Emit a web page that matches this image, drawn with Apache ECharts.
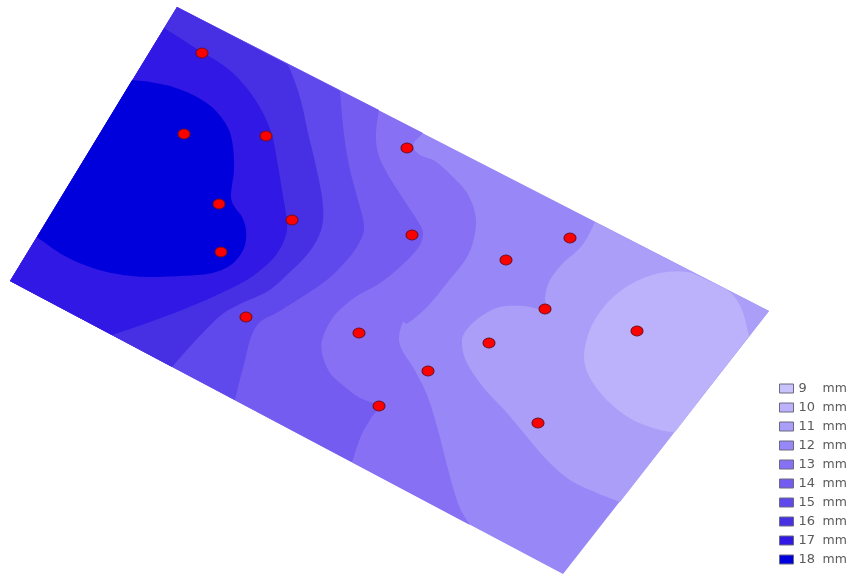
<!DOCTYPE html>
<html>
<head>
<meta charset="utf-8">
<style>
html,body{margin:0;padding:0;background:#fff;}
#chart{width:851px;height:576px;filter:blur(0.6px);}
</style>
<script src="https://cdn.jsdelivr.net/npm/echarts@6/dist/echarts.min.js"></script>
</head>
<body>
<div id="chart"></div>
<script>
// Field outline and contours, read in the chart's own (image-aligned) units
var fieldOutline = [[177,7],[769,311],[563,574],[10,281]];
var contour18 = [[132,80],[150,82],[173,87],[197,97],[215,110],[228,128],[233,147],[234,170],[232,185],[231,197],[234,206],[242,217],[246,230],[245,245],[238,258],[226,268],[207,274],[180,276],[147,277],[117,274],[90,267],[63,255],[37,237]];
var contour17 = [[164,28],[180,38],[200,51],[220,63],[236,76],[252,95],[264,115],[272,135],[277,160],[282,190],[287,222],[285,238],[276,255],[262,269],[245,281],[217,295],[187,308],[150,322],[112,335]];
var contour16 = [[288,65],[295,82],[302,105],[308,133],[315,162],[322,197],[323,220],[318,238],[306,256],[290,272],[268,291],[240,304],[220,316],[195,341],[172,367]];
var contour15 = [[340,91],[342,115],[345,142],[350,170],[358,200],[364,227],[358,245],[346,261],[328,279],[302,297],[278,312],[260,322],[251,337],[245,360],[239,383],[235,400]];
var contour14 = [[379,110],[376,133],[378,153],[387,173],[402,197],[417,220],[423,233],[418,248],[401,266],[380,283],[354,298],[334,316],[323,337],[322,353],[330,373],[345,387],[360,398],[378,406],[371,418],[361,436],[352,462]];
var contour13 = [[423,133],[413,145],[420,155],[435,161],[453,177],[467,193],[475,213],[475,233],[467,257],[447,283],[427,307],[408,323],[403,322],[399,337],[402,350],[414,369],[427,395],[438,430],[449,473],[459,506],[470,525]];
var contour11 = [[620,502],[597,493],[570,480],[547,460],[527,437],[507,413],[483,387],[467,363],[462,345],[465,332],[480,317],[500,307],[523,306],[545,309],[545,297],[550,280],[563,263],[578,250],[587,238],[595,222]];
var contour10 = [[749,336],[742,310],[730,292],[707,280],[687,272],[660,273],[633,283],[610,300],[593,323],[585,347],[585,365],[593,383],[610,403],[633,420],[660,430],[675,432]];
var westCorners = [[10,281],[177,7]];
var eastCorner = [[769,311]];
var gaugePoints = [[202,53],[184,134],[266,136],[219,204],[292,220],[221,252],[246,317],[407,148],[412,235],[359,333],[428,371],[379,406],[506,260],[570,238],[545,309],[489,343],[637,331],[538,423]];
var levelNames = ['9 mm','10 mm','11 mm','12 mm','13 mm','14 mm','15 mm','16 mm','17 mm','18 mm'];
var levelColors = ['#c9c2fc','#bbb2fb','#aa9ef9','#9887f6','#8770f3','#755cf0','#5f48ec','#4730e4','#3118e4','#0000dc'];

function spline(pts){
  var out=[];
  for(var i=0;i<pts.length-1;i++){
    var p0=pts[Math.max(i-1,0)],p1=pts[i],p2=pts[i+1],p3=pts[Math.min(i+2,pts.length-1)];
    for(var s=0;s<8;s++){
      var t=s/8,t2=t*t,t3=t2*t;
      out.push([
        0.5*(2*p1[0]+(p2[0]-p0[0])*t+(2*p0[0]-5*p1[0]+4*p2[0]-p3[0])*t2+(3*p1[0]-p0[0]-3*p2[0]+p3[0])*t3),
        0.5*(2*p1[1]+(p2[1]-p0[1])*t+(2*p0[1]-5*p1[1]+4*p2[1]-p3[1])*t2+(3*p1[1]-p0[1]-3*p2[1]+p3[1])*t3)
      ]);
    }
  }
  out.push(pts[pts.length-1]);
  return out;
}
function band(name,color,pts,corners,smooth){
  var outline=(smooth?spline(pts):pts).concat(corners);
  return {
    type:'custom',name:name,coordinateSystem:'cartesian2d',silent:true,
    itemStyle:{color:color},
    encode:{x:0,y:1},
    data:pts,
    clip:false,
    renderItem:function(params,api){
      if(params.dataIndex!==0) return null;
      return {type:'polygon',
        shape:{points:outline.map(function(p){return api.coord(p);})},
        style:{fill:color,stroke:null}};
    }
  };
}
var series=[
  band(levelNames[0],levelColors[0],[],[],false),
  band(levelNames[3],levelColors[3],fieldOutline,[],false),
  band(levelNames[2],levelColors[2],contour11,eastCorner,true),
  band(levelNames[1],levelColors[1],contour10,[],true),
  band(levelNames[4],levelColors[4],contour13,westCorners,true),
  band(levelNames[5],levelColors[5],contour14,westCorners,true),
  band(levelNames[6],levelColors[6],contour15,westCorners,true),
  band(levelNames[7],levelColors[7],contour16,westCorners,true),
  band(levelNames[8],levelColors[8],contour17,westCorners,true),
  band(levelNames[9],levelColors[9],contour18,[],true),
  {type:'scatter',name:'gauges',data:gaugePoints,symbol:'circle',symbolSize:[12,10],silent:true,
   itemStyle:{color:'#ff0000',borderColor:'#6e1020',borderWidth:1,opacity:1},z:5}
];
var chart=echarts.init(document.getElementById('chart'),null,{renderer:'canvas'});
chart.setOption({
  animation:false,
  backgroundColor:'#ffffff',
  grid:{left:0,right:0,top:0,bottom:0},
  xAxis:{type:'value',min:0,max:851,show:false},
  yAxis:{type:'value',min:0,max:576,inverse:true,show:false},
  legend:{
    show:true,orient:'vertical',left:779,top:382,padding:0,
    data:levelNames,
    icon:'rect',itemWidth:14,itemHeight:9,itemGap:6,
    selectedMode:false,
    itemStyle:{borderColor:'#6a6a80',borderWidth:1},
    formatter:function(n){var a=n.split(' ');return '{a|'+a[0]+'}{b|'+a[1]+'}';},
    textStyle:{
      color:'#5a5a5a',fontFamily:'DejaVu Sans',fontSize:13,
      rich:{
        a:{width:24,fontFamily:'DejaVu Sans',fontSize:13,color:'#5a5a5a',lineHeight:14},
        b:{fontFamily:'DejaVu Sans',fontSize:12.5,color:'#5a5a5a',lineHeight:14}
      }
    }
  },
  series:series
});
</script>
</body>
</html>
